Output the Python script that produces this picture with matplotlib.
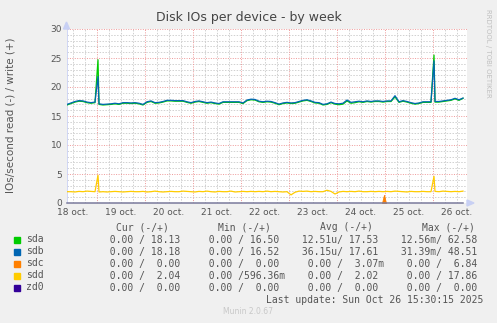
import numpy as np
import matplotlib
matplotlib.use("Agg")
import matplotlib.pyplot as plt
from matplotlib.patches import Polygon, Rectangle

# hours since 18 oct 09:00, one sample every 2 h
hours = np.arange(0, 200, 2)

# writes (+) per device, IOs/second
sda = [16.9, 17.15, 17.4, 17.55, 17.5, 17.3, 17.2, 17.3,
       17.0, 16.9, 16.95, 17.0, 17.1, 17.0, 17.2, 17.2, 17.15, 17.2,
       17.1, 16.9, 17.35, 17.5, 17.2, 17.25, 17.4, 17.6, 17.6, 17.55,
       17.55, 17.55, 17.35, 17.2, 17.4, 17.5, 17.35, 17.2, 17.3, 17.15,
       17.05, 17.35, 17.35, 17.35, 17.35, 17.35, 17.15, 17.65, 17.8, 17.75,
       17.45, 17.35, 17.45, 17.4, 17.2, 16.95, 17.15, 17.25, 17.15, 17.2,
       17.4, 17.6, 17.7, 17.5, 17.25, 17.2, 16.9, 17.0, 17.3, 17.05,
       16.95, 17.05, 17.6, 17.2, 17.3, 17.45, 17.35, 17.5, 17.4, 17.5,
       17.5, 17.4, 17.5, 17.5, 18.3, 17.35, 17.55, 17.4, 17.2, 17.05,
       17.15, 17.35, 17.35, 17.35, 17.4, 17.4, 17.5, 17.6, 17.7, 17.95, 17.7, 18.05]
sdb = [17.0, 17.25, 17.5, 17.65, 17.6, 17.4, 17.3, 17.4,
       17.1, 17.0, 17.05, 17.1, 17.2, 17.1, 17.3, 17.3, 17.25, 17.3,
       17.2, 17.0, 17.45, 17.6, 17.3, 17.35, 17.5, 17.7, 17.7, 17.65,
       17.65, 17.65, 17.45, 17.3, 17.5, 17.6, 17.45, 17.3, 17.4, 17.25,
       17.15, 17.45, 17.45, 17.45, 17.45, 17.45, 17.25, 17.75, 17.9, 17.85,
       17.55, 17.45, 17.55, 17.5, 17.3, 17.05, 17.25, 17.35, 17.25, 17.3,
       17.5, 17.7, 17.8, 17.6, 17.35, 17.3, 17.0, 17.1, 17.4, 17.15,
       17.1, 17.2, 17.75, 17.35, 17.45, 17.55, 17.45, 17.6, 17.5, 17.6,
       17.6, 17.5, 17.6, 17.6, 18.5, 17.45, 17.65, 17.5, 17.3, 17.15,
       17.25, 17.45, 17.45, 17.45, 17.5, 17.5, 17.6, 17.7, 17.8, 18.05, 17.8, 18.1]
sdd = [1.95, 1.95, 1.9, 2.0, 1.95, 2.05, 2.0, 1.95,
       1.9, 1.95, 1.9, 1.95, 2.0, 1.95, 1.9, 1.95, 2.0, 1.95,
       1.95, 2.0, 1.9, 1.95, 2.05, 1.95, 1.9, 1.95, 2.0, 1.95,
       1.95, 2.05, 2.0, 1.95, 1.9, 2.0, 1.95, 2.05, 1.95, 1.9,
       2.0, 1.95, 1.95, 2.05, 1.9, 1.95, 2.0, 1.95, 2.0, 1.95,
       2.0, 1.95, 2.05, 1.95, 2.0, 1.95, 1.9, 1.95, 1.4, 1.85,
       2.05, 2.0, 2.05, 1.95, 2.0, 1.95, 1.95, 2.2, 2.0, 1.55,
       1.9, 2.0, 1.95, 2.0, 1.95, 2.05, 1.95, 1.95, 2.0, 1.95,
       2.0, 1.95, 2.0, 1.95, 2.05, 2.0, 1.95, 1.9, 2.0, 1.95,
       1.95, 2.0, 1.95, 1.95, 2.0, 1.95, 2.05, 2.0, 1.95, 2.0, 1.95, 2.05]

# short bursts between the 2 h samples
spike_hours = [15.5, 183.5]
sda_spikes = [24.7, 25.5]
sdb_spikes = [21.8, 24.5]
sdd_spikes = [4.8, 4.6]

sdc_hours = [157.5, 158.5, 159.5]
sdc = [0, 1.4, 0]
zd0_hours = [0, 198]
zd0 = [0, 0]

devices = ["sda", "sdb", "sdc", "sdd", "zd0"]
colors = ["#00CC00", "#0066B3", "#FF8000", "#FFCC00", "#330099"]
cur_txt = ["  0.00 / 18.13 ", "  0.00 / 18.18 ", "  0.00 /  0.00 ", "  0.00 /  2.04 ", "  0.00 /  0.00 "]
min_txt = ["  0.00 / 16.50 ", "  0.00 / 16.52 ", "  0.00 /  0.00 ", "  0.00 /596.36m", "  0.00 /  0.00 "]
avg_txt = [" 12.51u/ 17.53 ", " 36.15u/ 17.61 ", "  0.00 /  3.07m", "  0.00 /  2.02 ", "  0.00 /  0.00 "]
max_txt = [" 12.56m/ 62.58 ", " 31.39m/ 48.51 ", "  0.00 /  6.84 ", "  0.00 / 17.86 ", "  0.00 /  0.00 "]
day_labels = ["18 oct.", "19 oct.", "20 oct.", "21 oct.", "22 oct.",
              "23 oct.", "24 oct.", "25 oct.", "26 oct."]


def with_spikes(vals, sp_vals):
    t = np.concatenate([hours, spike_hours])
    v = np.concatenate([vals, sp_vals])
    order = np.argsort(t)
    return t[order], v[order]


W, H = 497, 323
fig = plt.figure(figsize=(W / 100, H / 100), dpi=100, facecolor="#F0F0F0")
ax = fig.add_axes([67 / W, 1 - 203 / H, 400 / W, 174 / H])
ax.set_facecolor("white")
ax.set_xlim(0, 200)
ax.set_ylim(0, 30)
for s in ax.spines.values():
    s.set_visible(False)

# grid: 6 h / 1 unit gray, midnight / 5 units red
for h in np.arange(3, 200, 6):
    if (h - 15) % 24 == 0:
        continue
    ax.axvline(h, color="#D0D0D0", lw=0.7, dashes=(1.5, 1.5), zorder=1)
for y in range(1, 31):
    if y % 5:
        ax.axhline(y, color="#D0D0D0", lw=0.7, dashes=(1.5, 1.5), zorder=1)
for h in np.arange(15, 200, 24):
    ax.axvline(h, color="#EE9999", lw=0.7, dashes=(1, 1.5), zorder=1)
for y in range(5, 31, 5):
    ax.axhline(y, color="#EE9999", lw=0.7, dashes=(1, 1.5), zorder=1)

t, v = with_spikes(sda, sda_spikes)
ax.plot(t, v, color=colors[0], lw=0.9, zorder=3)
t, v = with_spikes(sdb, sdb_spikes)
ax.plot(t, v, color=colors[1], lw=0.9, zorder=3)
ax.fill_between(sdc_hours, sdc, color=colors[2], lw=0.6, zorder=3)
t, v = with_spikes(sdd, sdd_spikes)
ax.plot(t, v, color=colors[3], lw=0.9, zorder=3)
ax.plot(zd0_hours, zd0, color="#7A7A9C", lw=1.1, zorder=5, clip_on=False)
ax.axvline(0, color="#C8D0F4", lw=1.2, zorder=2)

ax.set_xticks(np.arange(3, 200, 24))
ax.set_xticklabels(day_labels)
ax.set_yticks(range(0, 31, 5))
ax.tick_params(length=0, labelsize=6.5, labelcolor="#555555", pad=3.5)

# axis arrows
fig.patches.append(Polygon([(63.5 / W, 1 - 29 / H), (69.5 / W, 1 - 29 / H), (66.5 / W, 1 - 22 / H)],
                           closed=True, transform=fig.transFigure, color="#C8D0F4"))
fig.patches.append(Polygon([(467 / W, 1 - 200 / H), (467 / W, 1 - 206 / H), (474 / W, 1 - 203 / H)],
                           closed=True, transform=fig.transFigure, color="#C8D0F4"))

fig.text(249 / W, 1 - 18 / H, "Disk IOs per device - by week", ha="center", va="center",
         fontsize=9, color="#444444")
fig.text(11 / W, 1 - 115 / H, "IOs/second read (-) / write (+)", rotation=90,
         ha="center", va="center", fontsize=7.5, color="#555555")
fig.text(488 / W, 1 - 53 / H, "RRDTOOL / TOBI OETIKER", rotation=270, ha="center", va="center",
         fontsize=5, color="#C0C0C0")

# legend block
mono = dict(family="DejaVu Sans Mono", fontsize=7.05, color="#555555", va="center")
for x, head in zip([115.5, 217.5, 320.2, 422.2], ["Cur (-/+)", "Min (-/+)", "Avg (-/+)", "Max (-/+)"]):
    fig.text(x / W, 1 - 227.3 / H, head, **mono)
for i, name in enumerate(devices):
    y = 239.5 + 12 * i
    fig.patches.append(Rectangle((14 / W, 1 - (y + 3) / H), 6 / W, 6 / H,
                                 transform=fig.transFigure, color=colors[i]))
    fig.text(26.3 / W, 1 - y / H, name, **mono)
    for k, col in enumerate([cur_txt, min_txt, avg_txt, max_txt]):
        fig.text((97.5 + 99.3 * k) / W, 1 - y / H, col[i], **mono)
fig.text(483.5 / W, 1 - 300 / H, "Last update: Sun Oct 26 15:30:15 2025", ha="right", **mono)
fig.text(248 / W, 1 - 311.7 / H, "Munin 2.0.67", ha="center", va="center", fontsize=5.5, color="#C8C8C8")

fig.savefig("out.png", dpi=100, facecolor=fig.get_facecolor())
